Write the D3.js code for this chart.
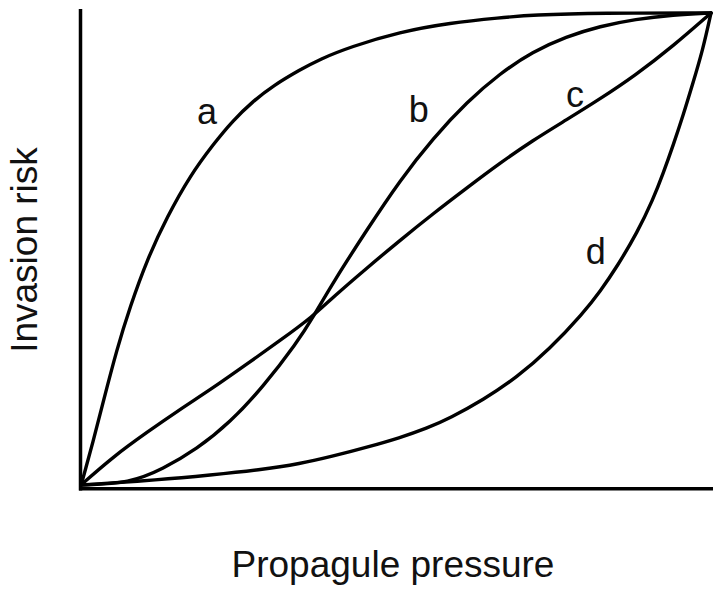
<!DOCTYPE html>
<html>
<head>
<meta charset="utf-8">
<script src="https://cdn.jsdelivr.net/npm/d3@7"></script>
<style>
  html, body { margin: 0; padding: 0; background: #fff; }
  svg { display: block; }
  text { font-family: "Liberation Sans", Arial, sans-serif; fill: #111; }
</style>
</head>
<body>
<svg id="chart" width="713" height="591"></svg>
<script>
// Normalised propagule pressure (x) and invasion risk (y)
const curveA = [[0,0],[0.003,0.013],[0.019,0.091],[0.035,0.175],[0.057,0.288],[0.078,0.378],[0.105,0.478],[0.137,0.569],[0.173,0.655],[0.210,0.722],[0.241,0.772],[0.273,0.813],[0.305,0.846],[0.348,0.880],[0.379,0.902],[0.427,0.928],[0.506,0.960],[0.586,0.979],[0.665,0.990],[0.717,0.996],[0.824,1.0],[1,1]];
const curveB = [[0,0],[0.078,0.004],[0.130,0.034],[0.184,0.076],[0.237,0.133],[0.289,0.208],[0.343,0.302],[0.368,0.355],[0.400,0.429],[0.454,0.541],[0.506,0.645],[0.559,0.735],[0.613,0.812],[0.665,0.872],[0.717,0.918],[0.770,0.950],[0.824,0.972],[0.880,0.987],[0.940,0.996],[1,1]];
const curveC = [[0,0],[0.051,0.060],[0.105,0.112],[0.157,0.160],[0.210,0.206],[0.263,0.256],[0.316,0.306],[0.368,0.357],[0.400,0.398],[0.454,0.460],[0.506,0.518],[0.559,0.575],[0.613,0.630],[0.665,0.682],[0.717,0.730],[0.771,0.774],[0.824,0.818],[0.880,0.868],[0.940,0.930],[1,1]];
const curveD = [[0,0],[0.125,0.011],[0.205,0.021],[0.284,0.032],[0.348,0.045],[0.400,0.061],[0.454,0.080],[0.506,0.100],[0.549,0.120],[0.586,0.142],[0.638,0.180],[0.692,0.228],[0.744,0.288],[0.797,0.364],[0.824,0.410],[0.851,0.463],[0.883,0.535],[0.908,0.605],[0.924,0.660],[0.940,0.720],[0.956,0.784],[0.971,0.850],[0.987,0.922],[1,1]];
const seriesNames = ["a", "b", "c", "d"];
const labelPos = [[0.200, 0.765], [0.536, 0.769], [0.784, 0.800], [0.817, 0.469]];
const xTitle = "Propagule pressure";
const yTitle = "Invasion risk";

const svg = d3.select("#chart");
const x = d3.scaleLinear().domain([0, 1]).range([81, 711]);
const y = d3.scaleLinear().domain([0, 1]).range([485, 13]);

// axes (no ticks)
svg.append("line").attr("x1", 80.5).attr("x2", 80.5).attr("y1", 9).attr("y2", 490.5)
  .attr("stroke", "#000").attr("stroke-width", 3.5);
svg.append("line").attr("x1", 79).attr("x2", 713).attr("y1", 488.7).attr("y2", 488.7)
  .attr("stroke", "#000").attr("stroke-width", 3.5);

const line = d3.line().x(d => x(d[0])).y(d => y(d[1])).curve(d3.curveBasis);
[curveA, curveB, curveC, curveD].forEach(c => {
  svg.append("path").datum(c).attr("d", line)
    .attr("fill", "none").attr("stroke", "#000").attr("stroke-width", 3.4)
    .attr("stroke-linejoin", "round").attr("stroke-linecap", "round");
});

seriesNames.forEach((n, i) => {
  svg.append("text").attr("x", x(labelPos[i][0])).attr("y", y(labelPos[i][1]))
    .attr("text-anchor", "middle").attr("font-size", 36).text(n);
});

svg.append("text").attr("x", 393).attr("y", 577).attr("text-anchor", "middle")
  .attr("font-size", 37).text(xTitle);
svg.append("text").attr("transform", "translate(37,250) rotate(-90)")
  .attr("text-anchor", "middle").attr("font-size", 37).text(yTitle);
</script>
</body>
</html>
